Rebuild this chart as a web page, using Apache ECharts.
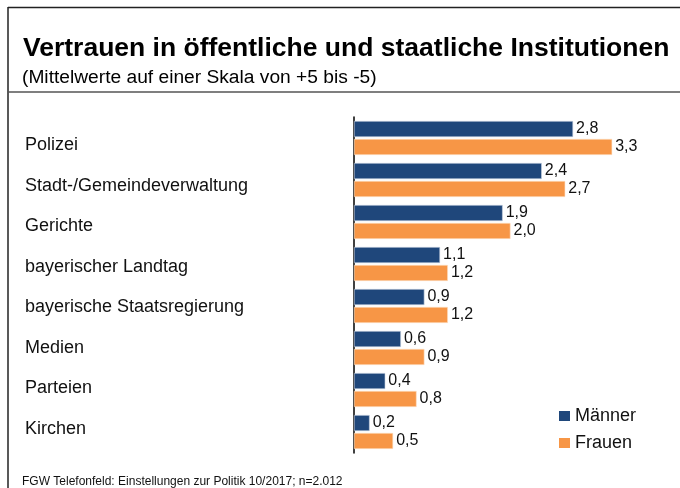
<!DOCTYPE html>
<html lang="de">
<head>
    <meta charset="UTF-8">
    <style>
        body { margin: 0; background: #fff; }
        #main { width: 680px; height: 488px; }
    </style>
    <title>Vertrauen in Institutionen</title>
</head>
<body>
    <div id="main"></div>
    <script src="https://cdn.jsdelivr.net/npm/echarts@6/dist/echarts.min.js"></script>
    <script>
        // Daten
        var categories = ['Polizei', 'Stadt-/Gemeindeverwaltung', 'Gerichte', 'bayerischer Landtag',
            'bayerische Staatsregierung', 'Medien', 'Parteien', 'Kirchen'];
        var maenner = [2.8, 2.4, 1.9, 1.1, 0.9, 0.6, 0.4, 0.2];
        var frauen = [3.3, 2.7, 2.0, 1.2, 1.2, 0.9, 0.8, 0.5];

        var font = '"Liberation Sans", Arial, sans-serif';
        var myChart = echarts.init(document.getElementById('main'));

        function komma(p) {
            return p.value.toFixed(1).replace('.', ',');
        }

        var option = {
            animation: false,
            textStyle: { fontFamily: font },
            title: [{
                text: 'Vertrauen in öffentliche und staatliche Institutionen',
                left: 18, top: 30,
                textStyle: { fontSize: 26.5, fontWeight: 'bold', color: '#000', fontFamily: font }
            }, {
                text: '(Mittelwerte auf einer Skala von +5 bis -5)',
                left: 17, top: 63,
                textStyle: { fontSize: 19.2, fontWeight: 'normal', color: '#000', fontFamily: font }
            }, {
                text: 'FGW Telefonfeld: Einstellungen zur Politik 10/2017; n=2.012',
                left: 17, top: 471,
                textStyle: { fontSize: 12, fontWeight: 'normal', color: '#111', fontFamily: font }
            }],
            graphic: [
                { type: 'line', shape: { x1: 8, y1: 7.5, x2: 680, y2: 7.5 }, style: { stroke: '#222', lineWidth: 1.5 } },
                { type: 'line', shape: { x1: 8, y1: 7, x2: 8, y2: 488 }, style: { stroke: '#222', lineWidth: 1.5 } },
                { type: 'line', shape: { x1: 8, y1: 92, x2: 680, y2: 92 }, style: { stroke: '#555', lineWidth: 1.5 } }
            ],
            legend: {
                orient: 'vertical',
                left: 554, top: 402,
                icon: 'rect',
                itemWidth: 11, itemHeight: 10, itemGap: 9,
                itemStyle: { borderWidth: 0 },
                textStyle: { fontSize: 18, color: '#111', fontFamily: font },
                data: ['Männer', 'Frauen']
            },
            grid: [
                { left: 354, top: 117, width: 313, height: 336 },
                // eigene Zeilen für die Beschriftung links
                { left: 354, top: 125, width: 313, height: 324 }
            ],
            xAxis: [
                { type: 'value', min: 0, max: 4, show: false, gridIndex: 0 },
                { type: 'value', min: 0, max: 4, show: false, gridIndex: 1 }
            ],
            yAxis: [{
                type: 'category',
                inverse: true,
                gridIndex: 0,
                data: categories,
                axisLine: { lineStyle: { color: '#000', width: 1.5 } },
                axisTick: { show: false },
                axisLabel: { show: false }
            }, {
                type: 'category',
                inverse: true,
                gridIndex: 1,
                data: categories,
                axisLine: { show: false },
                axisTick: { show: false },
                axisLabel: {
                    align: 'left', margin: 329,
                    fontSize: 18, color: '#111', fontFamily: font
                }
            }],
            series: [{
                name: 'Männer', type: 'bar',
                data: maenner,
                barWidth: 16, barGap: '12%',
                itemStyle: { color: '#1f477b', borderColor: '#c9d3e0', borderWidth: 0.6 },
                label: { show: true, position: 'right', distance: 3, fontSize: 16, color: '#111', formatter: komma }
            }, {
                name: 'Frauen', type: 'bar',
                data: frauen,
                barWidth: 16,
                itemStyle: { color: '#f79646', borderColor: '#fde0c8', borderWidth: 0.6 },
                label: { show: true, position: 'right', distance: 3, fontSize: 16, color: '#111', formatter: komma }
            }]
        };

        myChart.setOption(option);
    </script>
</body>
</html>
